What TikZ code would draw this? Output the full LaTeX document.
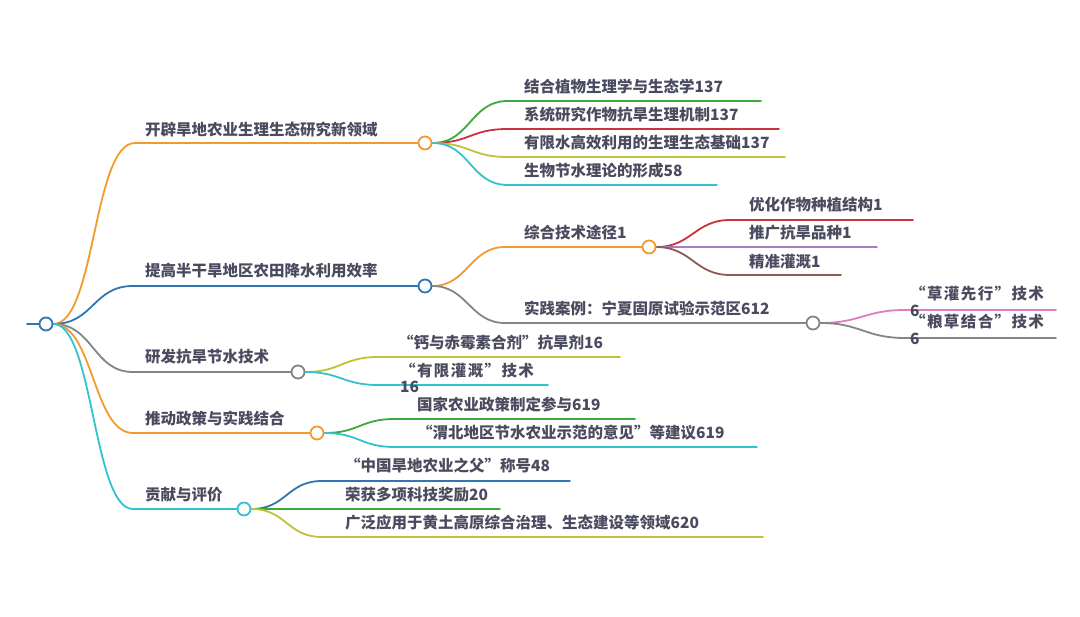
\documentclass[tikz,border=0pt]{standalone}
\usepackage{fontspec}
\setmainfont{Noto Sans CJK SC}
\definecolor{cOrange}{HTML}{F39A2E}
\definecolor{cBlue}{HTML}{2F76B3}
\definecolor{cGray}{HTML}{858585}
\definecolor{cCyan}{HTML}{33C2D0}
\definecolor{cGreen}{HTML}{3BAA3B}
\definecolor{cRed}{HTML}{C8343C}
\definecolor{cOlive}{HTML}{BFC23A}
\definecolor{cPurple}{HTML}{A77DC4}
\definecolor{cBrown}{HTML}{8E5B50}
\definecolor{cPink}{HTML}{E07CC2}
\definecolor{cText}{HTML}{4B4B60}
\pgfdeclarelayer{bg}
\pgfdeclarelayer{paper}
\pgfsetlayers{paper,bg,main}
\tikzset{
  lbl/.style={anchor=base west, inner sep=0pt, text=cText, font=\bfseries\fontsize{15.5}{18}\selectfont},
  wide/.style={font=\bfseries\fontsize{15.5}{18}\selectfont\addfontfeature{LetterSpace=9}},
  dot/.style={circle, draw, fill=white, line width=1.8pt, minimum size=13pt, inner sep=0pt},
  br/.style={line width=1.8pt, line cap=round},
}
\begin{document}
\begin{tikzpicture}[x=1pt,y=-1pt]
\begin{pgfonlayer}{paper}
\useasboundingbox[fill=white] (0,0) rectangle (1080,617);
\end{pgfonlayer}

% ---------- nodes: circles ----------
\node[dot, draw=cBlue] (root) at (46,324) {};
\node[dot, draw=cOrange] (c1) at (425,143) {};
\node[dot, draw=cBlue] (c2) at (425,286) {};
\node[dot, draw=cGray] (c3) at (298,372) {};
\node[dot, draw=cOrange] (c4) at (317,433) {};
\node[dot, draw=cCyan] (c5) at (244,509) {};
\node[dot, draw=cOrange] (c21) at (649,247) {};
\node[dot, draw=cGray] (c22) at (813,323) {};

% ---------- texts ----------
\node[lbl] (t1) at (145,136) {开辟旱地农业生理生态研究新领域};
\node[lbl] (t2) at (145,277) {提高半干旱地区农田降水利用效率};
\node[lbl] (t3) at (145,363) {研发抗旱节水技术};
\node[lbl] (t4) at (145,425) {推动政策与实践结合};
\node[lbl] (t5) at (145,501) {贡献与评价};

\node[lbl] (t11) at (524,93) {结合植物生理学与生态学137};
\node[lbl] (t12) at (524,121) {系统研究作物抗旱生理机制137};
\node[lbl] (t13) at (524,149) {有限水高效利用的生理生态基础137};
\node[lbl] (t14) at (524,177) {生物节水理论的形成58};

\node[lbl] (t21) at (524,239) {综合技术途径1};
\node[lbl] (t22) at (524,315) {实践案例：宁夏固原试验示范区612};
\node[lbl] (t211) at (749,211) {优化作物种植结构1};
\node[lbl] (t212) at (749,239) {推广抗旱品种1};
\node[lbl] (t213) at (749,268) {精准灌溉1};
\node[lbl, wide] (t221) at (910,300) {“草灌先行”技术};
\node[lbl] (t221b) at (910,317) {6};
\node[lbl, wide] (t222) at (910,328) {“粮草结合”技术};
\node[lbl] (t222b) at (910,345) {6};

\node[lbl] (t31) at (398,349) {“钙与赤霉素合剂”抗旱剂16};
\node[lbl, wide] (t32) at (400,377) {“有限灌溉”技术};
\node[lbl] (t32b) at (400,393) {16};

\node[lbl] (t41) at (417,411) {国家农业政策制定参与619};
\node[lbl] (t42) at (417,439) {“渭北地区节水农业示范的意见”等建议619};

\node[lbl] (t51) at (345,472) {“中国旱地农业之父”称号48};
\node[lbl] (t52) at (345,501) {荣获多项科技奖励20};
\node[lbl] (t53) at (345,529) {广泛应用于黄土高原综合治理、生态建设等领域620};

% ---------- coordinates for line starts / ends ----------
\coordinate (rs) at (27,324);
\coordinate (l1) at (135,143);
\coordinate (l2) at (133,286);
\coordinate (l3) at (133,372);
\coordinate (l4) at (133,433);
\coordinate (l5) at (133,509);

\coordinate (l11s) at (508,101); \coordinate (l11e) at (761,101);
\coordinate (l12s) at (508,129); \coordinate (l12e) at (779,129);
\coordinate (l13s) at (508,157); \coordinate (l13e) at (785,157);
\coordinate (l14s) at (508,185); \coordinate (l14e) at (717,185);

\coordinate (l21s) at (505,247);
\coordinate (l22s) at (505,323);
\coordinate (l211s) at (730,220); \coordinate (l211e) at (913,220);
\coordinate (l212e) at (877,247);
\coordinate (l213s) at (730,275); \coordinate (l213e) at (841,275);
\coordinate (l221s) at (905,310); \coordinate (l221e) at (1056,310);
\coordinate (l222s) at (905,338); \coordinate (l222e) at (1056,338);

\coordinate (l31s) at (378,357); \coordinate (l31e) at (620,357);
\coordinate (l32s) at (378,385); \coordinate (l32e) at (548,385);
\coordinate (l41s) at (395,419); \coordinate (l41e) at (635,419);
\coordinate (l42s) at (395,447); \coordinate (l42e) at (757,447);
\coordinate (l51s) at (322,481); \coordinate (l51e) at (570,481);
\coordinate (l52e) at (500,509);
\coordinate (l53s) at (322,537); \coordinate (l53e) at (763,537);

% ---------- connectors (behind nodes) ----------
\begin{pgfonlayer}{bg}
\draw[br, cBlue] (rs) -- (root.west);
\draw[br, cOrange] (root.east) .. controls +(42,0) and +(-42,0) .. (l1) -- (c1.west);
\draw[br, cBlue] (root.east) .. controls +(40,0) and +(-40,0) .. (l2) -- (c2.west);
\draw[br, cGray] (root.east) .. controls +(40,0) and +(-40,0) .. (l3) -- (c3.west);
\draw[br, cOrange] (root.east) .. controls +(40,0) and +(-40,0) .. (l4) -- (c4.west);
\draw[br, cCyan] (root.east) .. controls +(40,0) and +(-40,0) .. (l5) -- (c5.west);

\draw[br, cGreen] (c1.east) .. controls +(38,0) and +(-38,0) .. (l11s) -- (l11e);
\draw[br, cRed] (c1.east) .. controls +(38,0) and +(-38,0) .. (l12s) -- (l12e);
\draw[br, cOlive] (c1.east) .. controls +(38,0) and +(-38,0) .. (l13s) -- (l13e);
\draw[br, cCyan] (c1.east) .. controls +(38,0) and +(-38,0) .. (l14s) -- (l14e);

\draw[br, cOrange] (c2.east) .. controls +(35,0) and +(-35,0) .. (l21s) -- (c21.west);
\draw[br, cGray] (c2.east) .. controls +(35,0) and +(-35,0) .. (l22s) -- (c22.west);

\draw[br, cRed] (c21.east) .. controls +(35,0) and +(-35,0) .. (l211s) -- (l211e);
\draw[br, cPurple] (c21.east) -- (l212e);
\draw[br, cBrown] (c21.east) .. controls +(35,0) and +(-35,0) .. (l213s) -- (l213e);

\draw[br, cPink] (c22.east) .. controls +(40,0) and +(-40,0) .. (l221s) -- (l221e);
\draw[br, cGray] (c22.east) .. controls +(40,0) and +(-40,0) .. (l222s) -- (l222e);

\draw[br, cOlive] (c3.east) .. controls +(35,0) and +(-35,0) .. (l31s) -- (l31e);
\draw[br, cCyan] (c3.east) .. controls +(35,0) and +(-35,0) .. (l32s) -- (l32e);

\draw[br, cGreen] (c4.east) .. controls +(35,0) and +(-35,0) .. (l41s) -- (l41e);
\draw[br, cCyan] (c4.east) .. controls +(35,0) and +(-35,0) .. (l42s) -- (l42e);

\draw[br, cBlue] (c5.east) .. controls +(35,0) and +(-35,0) .. (l51s) -- (l51e);
\draw[br, cGreen] (c5.east) -- (l52e);
\draw[br, cOlive] (c5.east) .. controls +(35,0) and +(-35,0) .. (l53s) -- (l53e);
\end{pgfonlayer}
\end{tikzpicture}
\end{document}
